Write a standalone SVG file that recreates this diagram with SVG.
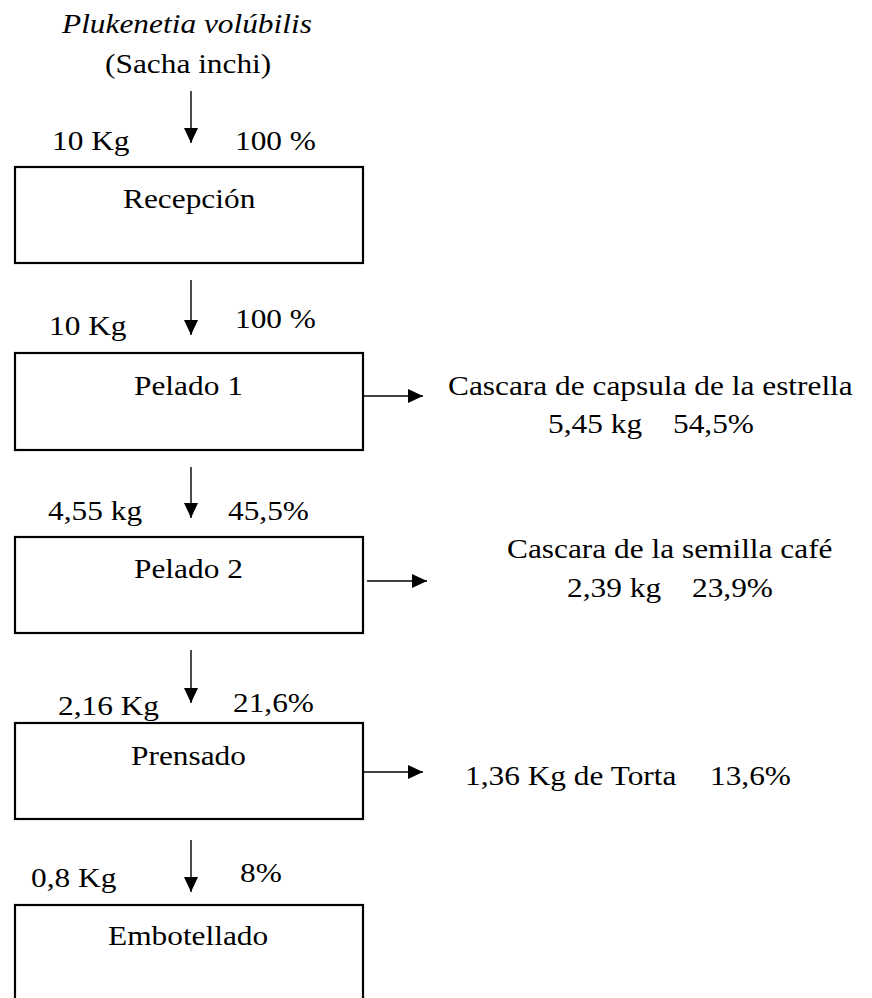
<svg xmlns="http://www.w3.org/2000/svg" width="872" height="998" viewBox="0 0 872 998">
<style>
text{font-family:"Liberation Serif","Times New Roman",serif;font-size:28px;fill:#000}
.it{font-style:italic}
.box{fill:#fff;stroke:#000;stroke-width:2.2}
.ln{stroke:#000;stroke-width:1.4;fill:none}
</style>
<defs>
<marker id="ah" markerUnits="userSpaceOnUse" markerWidth="16" markerHeight="14" refX="15" refY="7" orient="auto">
<path d="M0,0 L15,7 L0,14 Z" fill="#000"/>
</marker>
</defs>
<g id="source">
<text class="it" transform="translate(62,33) scale(1.12,1)">Plukenetia volúbilis</text>
<text transform="translate(105,73) scale(1.12,1)">(Sacha inchi)</text>
</g>
<g id="connectors">
<line class="ln" x1="191" y1="91" x2="191" y2="143" marker-end="url(#ah)"/>
<line class="ln" x1="191" y1="280" x2="191" y2="335" marker-end="url(#ah)"/>
<line class="ln" x1="191" y1="467" x2="191" y2="518" marker-end="url(#ah)"/>
<line class="ln" x1="191" y1="650" x2="191" y2="703" marker-end="url(#ah)"/>
<line class="ln" x1="191" y1="840" x2="191" y2="892" marker-end="url(#ah)"/>
<line class="ln" x1="363" y1="396" x2="423" y2="396" marker-end="url(#ah)"/>
<line class="ln" x1="367" y1="581" x2="427" y2="581" marker-end="url(#ah)"/>
<line class="ln" x1="363" y1="772" x2="423" y2="772" marker-end="url(#ah)"/>
</g>
<g id="flow-labels">
<text transform="translate(52,150) scale(1.12,1)">10 Kg</text>
<text transform="translate(235,150) scale(1.12,1)">100 %</text>
<text transform="translate(49,335) scale(1.12,1)">10 Kg</text>
<text transform="translate(235,328) scale(1.12,1)">100 %</text>
<text transform="translate(48,520) scale(1.12,1)">4,55 kg</text>
<text transform="translate(228,520) scale(1.12,1)">45,5%</text>
<text transform="translate(58,715) scale(1.12,1)">2,16 Kg</text>
<text transform="translate(233,712) scale(1.12,1)">21,6%</text>
<text transform="translate(31,887) scale(1.12,1)">0,8 Kg</text>
<text transform="translate(240,882) scale(1.12,1)">8%</text>
</g>
<g id="recepcion">
<rect class="box" x="15" y="167" width="348" height="96"/>
<text transform="translate(123,208) scale(1.12,1)">Recepción</text>
</g>
<g id="pelado1">
<rect class="box" x="15" y="353" width="348" height="97"/>
<text transform="translate(134,395) scale(1.12,1)">Pelado 1</text>
</g>
<g id="pelado2">
<rect class="box" x="15" y="537" width="348" height="96"/>
<text transform="translate(134,578) scale(1.12,1)">Pelado 2</text>
</g>
<g id="prensado">
<rect class="box" x="15" y="723" width="348" height="96"/>
<text transform="translate(131,765) scale(1.12,1)">Prensado</text>
</g>
<g id="embotellado">
<rect class="box" x="15" y="905" width="348" height="110"/>
<text transform="translate(108,945) scale(1.12,1)">Embotellado</text>
</g>
<g id="out-capsula">
<text transform="translate(448,395) scale(1.12,1)">Cascara de capsula de la estrella</text>
<text transform="translate(548,433) scale(1.12,1)">5,45 kg</text>
<text transform="translate(673,433) scale(1.12,1)">54,5%</text>
</g>
<g id="out-semilla">
<text transform="translate(507,558) scale(1.12,1)">Cascara de la semilla café</text>
<text transform="translate(567,597) scale(1.12,1)">2,39 kg</text>
<text transform="translate(692,597) scale(1.12,1)">23,9%</text>
</g>
<g id="out-torta">
<text transform="translate(465,785) scale(1.12,1)">1,36 Kg de Torta</text>
<text transform="translate(710,785) scale(1.12,1)">13,6%</text>
</g>
</svg>
